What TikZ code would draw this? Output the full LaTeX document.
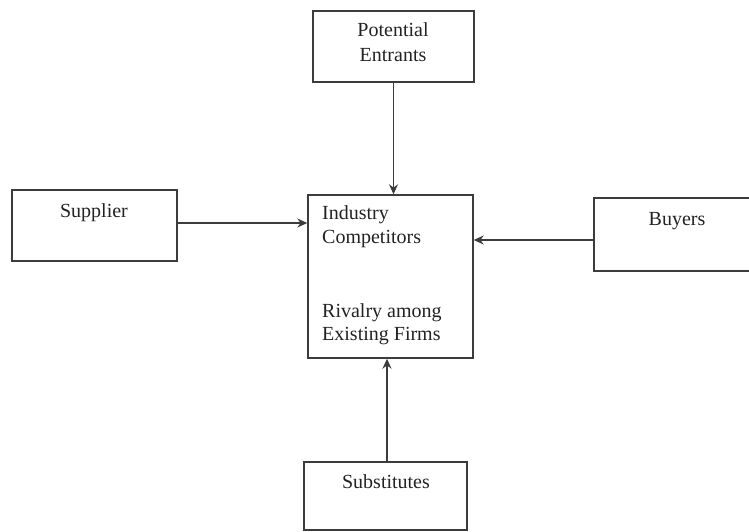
\documentclass[tikz,border=0pt]{standalone}
\usepackage{fontspec}
\setmainfont{Liberation Serif}
\usetikzlibrary{arrows.meta}
\definecolor{linecol}{HTML}{3C3C3C}
\definecolor{textcol}{HTML}{222222}
\tikzset{
  box/.style={draw=linecol, line width=1.4pt, rectangle, inner sep=0pt},
  txt/.style={text=textcol, font=\fontsize{20}{23}\selectfont, inner sep=0pt},
  conn/.style={draw=linecol, line width=1.4pt, -{Stealth[length=10pt,width=9pt]}}
}
\begin{document}
\begin{tikzpicture}[x=1pt,y=-1pt]
\useasboundingbox (0,0) rectangle (749,532);
% boxes
\node[box, minimum width=161pt, minimum height=71pt] (pe) at (393.5,46.5) {};
\node[box, minimum width=165pt, minimum height=71pt] (sup) at (94.5,225.5) {};
\node[box, minimum width=165pt, minimum height=163pt] (main) at (390.5,276.5) {};
\node[box, minimum width=186pt, minimum height=73pt] (buy) at (687,234.5) {};
\node[box, minimum width=163pt, minimum height=68pt] (subs) at (385.5,496) {};
% texts
\node[txt, anchor=base] (pe1) at (393,37) {Potential};
\node[txt, anchor=base] (pe2) at (393,62) {Entrants};
\node[txt, anchor=base] (sup1) at (94,217) {Supplier};
\node[txt, anchor=base west] (m1) at (322,219) {Industry};
\node[txt, anchor=base west] (m2) at (322,243) {Competitors};
\node[txt, anchor=base west] (m3) at (322,317) {Rivalry among};
\node[txt, anchor=base west] (m4) at (322,340) {Existing Firms};
\node[txt, anchor=base] (buy1) at (677,225) {Buyers};
\node[txt, anchor=base] (subs1) at (386,488) {Substitutes};
% connectors
\draw[conn] (pe.south) -- (pe.south |- main.north);
\draw[conn] ([yshift=2.5pt]sup.east) -- ([yshift=2.5pt]sup.east -| main.west);
\draw[conn] ([yshift=-5.5pt]buy.west) -- ([yshift=-5.5pt]buy.west -| main.east);
\draw[conn] ([xshift=1.5pt]subs.north) -- ([xshift=1.5pt]subs.north |- main.south);
\end{tikzpicture}
\end{document}
